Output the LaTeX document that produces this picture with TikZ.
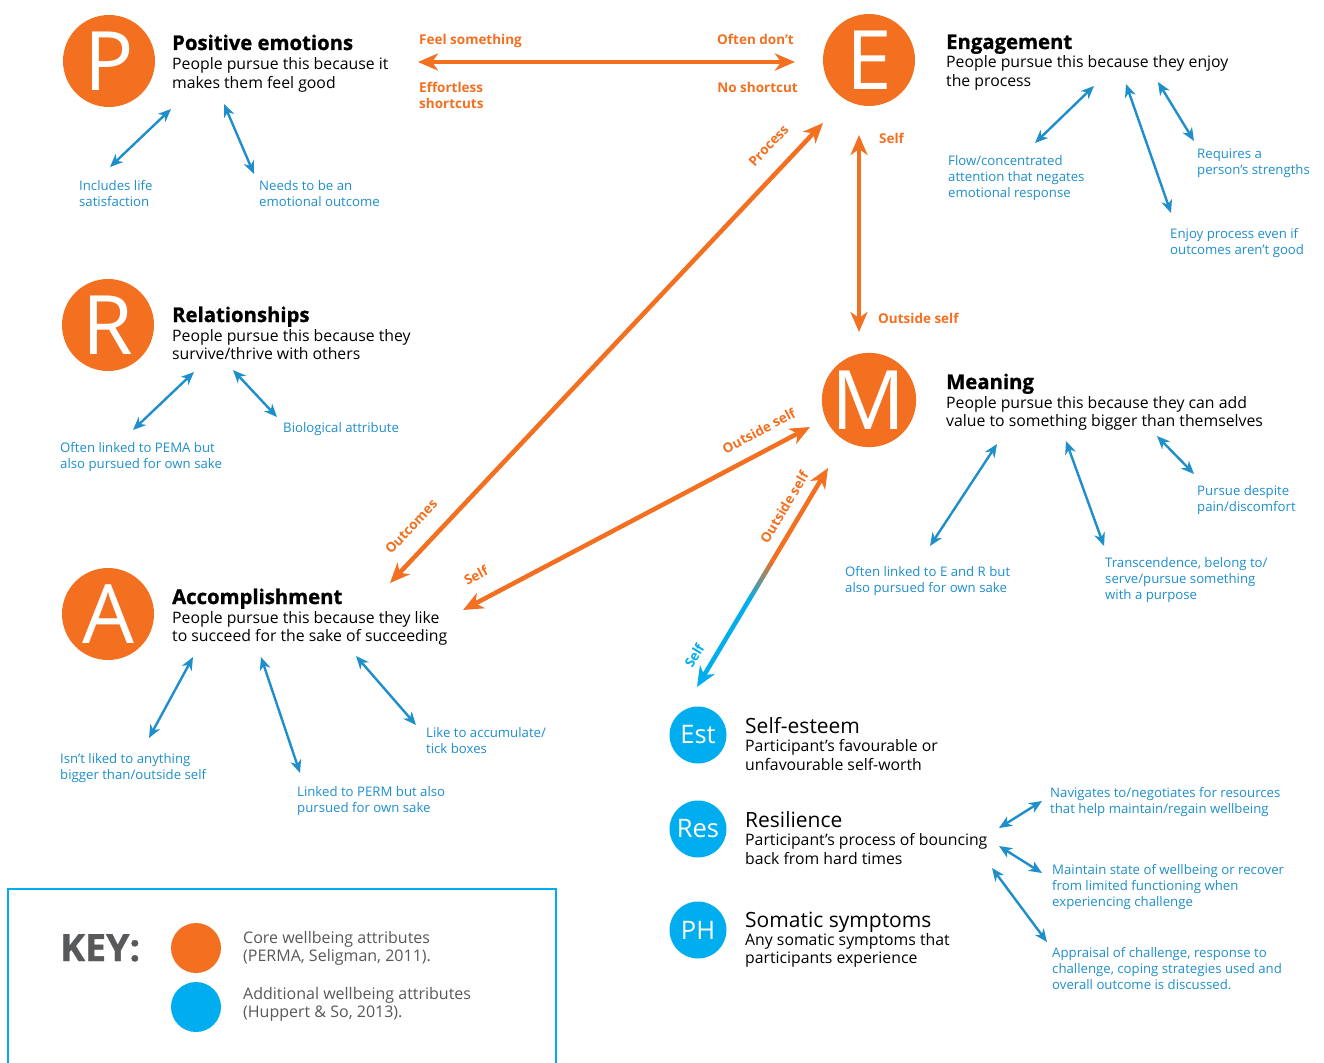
\documentclass[tikz,border=0pt]{standalone}
\usepackage{fontspec}
\setmainfont{Open Sans}
\usetikzlibrary{arrows.meta,calc}
\definecolor{orng}{HTML}{F37021}
\definecolor{cyanc}{HTML}{00AEEF}
\definecolor{bluet}{HTML}{1F8FCB}
\definecolor{keygrey}{HTML}{58595B}
\newcommand\mybl[3]{\coordinate (#1s) at (#2); \coordinate (#1e) at (#3); \draw[barr] (#1s) -- (#1e);}
\begin{document}
\begin{tikzpicture}[x=1pt,y=-1pt,
 big/.style={circle,fill=orng,text=white,minimum size=92pt,inner sep=0,font=\fontsize{82}{82}\selectfont},
 small/.style={circle,fill=cyanc,text=white,minimum size=57pt,inner sep=0,font=\fontsize{25.5}{25.5}\selectfont},
 keydot/.style={circle,minimum size=50pt,inner sep=0},
 ttl/.style={anchor=base west,inner sep=0,font=\fontsize{20.3}{24}\selectfont\bfseries\addfontfeature{FakeBold=1}},
 ttlb/.style={anchor=base west,inner sep=0,font=\fontsize{21}{24}\selectfont},
 body/.style={anchor=base west,inner sep=0,align=left,font=\fontsize{15.8}{18.5}\selectfont},
 lbl/.style={anchor=base west,inner sep=0,align=left,text=bluet,font=\fontsize{13.2}{16}\selectfont},
 olbl/.style={inner sep=0,align=left,text=orng,font=\fontsize{13.5}{15.5}\selectfont\bfseries},
 keytxt/.style={anchor=base west,inner sep=0,align=left,text=keygrey,font=\fontsize{16}{18}\selectfont},
 otip/.tip={Stealth[length=20pt,width=17pt,inset=6pt]},
 btip/.tip={Stealth[length=13pt,width=11pt,inset=4pt]},
 oarr/.style={draw=orng,line width=4.5pt,otip-otip},
 barr/.style={draw=bluet,line width=2.4pt,btip-btip}
]
\useasboundingbox[fill=white] (0,0) rectangle (1324,1062);

% circles
\node[big] (P) at (109,61) {P};
\node[big] (E) at (869,60) {E};
\node[big] (R) at (108,325) {R};
\node[big] (M) at (869,400) {M};
\node[big] (A) at (108,614) {A};
\node[small] (Est) at (698,735) {Est};
\node[small] (Res) at (698,829) {Res};
\node[small] (PH) at (698,930) {PH};

% titles and descriptions (multi-line nodes: base = last line)
\node[ttl] (Pt) at (172,50) {Positive emotions};
\node[body] (Pb) at (172,88.5) {People pursue this because it\\makes them feel good};
\node[ttl] (Et) at (946,49) {Engagement};
\node[body] (Eb) at (946,86.5) {People pursue this because they enjoy\\the process};
\node[ttl] (Rt) at (172,322) {Relationships};
\node[body] (Rb) at (172,359.5) {People pursue this because they\\survive/thrive with others};
\node[ttl] (Mt) at (946,389) {Meaning};
\node[body] (Mb) at (946,426.5) {People pursue this because they can add\\value to something bigger than themselves};
\node[ttl] (At) at (172,604) {Accomplishment};
\node[body] (Ab) at (172,641.5) {People pursue this because they like\\to succeed for the sake of succeeding};
\node[ttlb] (Estt) at (745,733) {Self-esteem};
\node[body] (Estb) at (745,770) {Participant’s favourable or\\unfavourable self-worth};
\node[ttlb] (Rest) at (745,827) {Resilience};
\node[body] (Resb) at (745,864) {Participant’s process of bouncing\\back from hard times};
\node[ttlb] (PHt) at (745,927) {Somatic symptoms};
\node[body] (PHb) at (745,963.5) {Any somatic symptoms that\\participants experience};

% blue labels
\node[lbl] (lP1) at (79,206) {Includes life\\satisfaction};
\node[lbl] (lP2) at (259,206) {Needs to be an\\emotional outcome};
\node[lbl] (lE1) at (948,197) {Flow/concentrated\\attention that negates\\emotional response};
\node[lbl] (lE2) at (1197,174) {Requires a\\person’s strengths};
\node[lbl] (lE3) at (1170,254) {Enjoy process even if\\outcomes aren’t good};
\node[lbl] (lR1) at (60,468) {Often linked to PEMA but\\also pursued for own sake};
\node[lbl] (lR2) at (283,432) {Biological attribute};
\node[lbl] (lM1) at (845,592) {Often linked to E and R but\\also pursued for own sake};
\node[lbl] (lM2) at (1105,599) {Transcendence, belong to/\\serve/pursue something\\with a purpose};
\node[lbl] (lM3) at (1197,511) {Pursue despite\\pain/discomfort};
\node[lbl] (lA1) at (60,779) {Isn’t liked to anything\\bigger than/outside self};
\node[lbl] (lA2) at (297,812) {Linked to PERM but also\\pursued for own sake};
\node[lbl] (lA3) at (426,753) {Like to accumulate/\\tick boxes};
\node[lbl] (lS1) at (1050,813) {Navigates to/negotiates for resources\\that help maintain/regain wellbeing};
\node[lbl] (lS2) at (1052,906) {Maintain state of wellbeing or recover\\from limited functioning when\\experiencing challenge};
\node[lbl] (lS3) at (1052,989) {Appraisal of challenge, response to\\challenge, coping strategies used and\\overall outcome is discussed.};

% blue arrows
\mybl{bp1}{171,109}{110,167}
\mybl{bp2}{224,104}{254,174}
\mybl{be1}{1094,86}{1035,143}
\mybl{be2}{1126,84}{1171,213}
\mybl{be3}{1158,82}{1194,141}
\mybl{br1}{194,372}{133,430}
\mybl{br2}{233,370}{277,417}
\mybl{bm1}{997,444}{930,546}
\mybl{bm2}{1066,441}{1104,546}
\mybl{bm3}{1157,436}{1194,474}
\mybl{ba1}{193,657}{149,738}
\mybl{ba2}{261,657}{300,773}
\mybl{ba3}{356,656}{416,725}
\mybl{bs1}{1042,801}{999,828}
\mybl{bs2}{999,846}{1042,873}
\mybl{bs3}{992,868}{1047,942}

% orange arrows
\coordinate (pE) at (418,62);
\coordinate (eW) at (795,62);
\draw[oarr] (pE) -- (eW);
\node[olbl,anchor=base west] (o1) at (419,45) {Feel something};
\node[olbl,anchor=base west] (o2) at (419,108.5) {Effortless\\shortcuts};
\node[olbl,anchor=base east] (o3) at (794,45) {Often don’t};
\node[olbl,anchor=base east] (o4) at (798,93) {No shortcut};

\coordinate (eS) at (859,135);
\coordinate (mN) at (859,332);
\draw[oarr] (eS) -- (mN);
\node[olbl,anchor=base west] (o5) at (879,143) {Self};
\node[olbl,anchor=base west] (o6) at (878,323) {Outside self};

\coordinate (aP) at (390,583);
\coordinate (eP) at (823,123);
\draw[oarr] (aP) -- node[olbl,pos=0.088,sloped,above=16pt] (o7) {Outcomes}
  node[olbl,pos=0.915,sloped,above=17pt] (o8) {Process} (eP);

\coordinate (aM) at (463,610);
\coordinate (mA) at (810,427);
\draw[oarr] (aM) -- node[olbl,pos=0.07,sloped,above=17pt] (o9) {Self}
  node[olbl,pos=0.88,sloped,above=13pt] (o10) {Outside self} (mA);

% gradient arrow M - Est
\coordinate (mT) at (828,468);
\coordinate (eT) at (697,687);
\draw[draw=orng,line width=4.5pt,otip-] (mT) -- ($(mT)!0.42!(eT)$);
\foreach \i in {0,...,9}{
  \pgfmathsetmacro\pa{0.42+\i*0.018}
  \pgfmathsetmacro\pb{0.42+(\i+1)*0.018+0.002}
  \pgfmathtruncatemacro\mix{100-\i*10-5}
  \draw[draw=orng!\mix!cyanc,line width=4.5pt] ($(mT)!\pa!(eT)$) -- ($(mT)!\pb!(eT)$);
}
\draw[draw=cyanc,line width=4.5pt,-otip] ($(mT)!0.6!(eT)$) -- (eT);
\path (eT) -- node[olbl,pos=0.78,sloped,above=12pt] (o11) {Outside self}
  node[olbl,text=cyanc,pos=0.10,sloped,above=13pt] (o12) {Self} (mT);

% key
\draw[cyanc,line width=2pt] (8,1070) -- (8,889) -- (556,889) -- (556,1070);
\node[anchor=base west,inner sep=0,text=keygrey,font=\fontsize{37.5}{40}\selectfont\bfseries\addfontfeature{FakeBold=1}] (key) at (60,961) {KEY:};
\node[keydot,fill=orng] (k1) at (196,948) {};
\node[keydot,fill=cyanc] (k2) at (196,1007) {};
\node[keytxt] (kt1) at (243,961) {Core wellbeing attributes\\(PERMA, Seligman, 2011).};
\node[keytxt] (kt2) at (243,1017) {Additional wellbeing attributes\\(Huppert \& So, 2013).};
\end{tikzpicture}
\end{document}
